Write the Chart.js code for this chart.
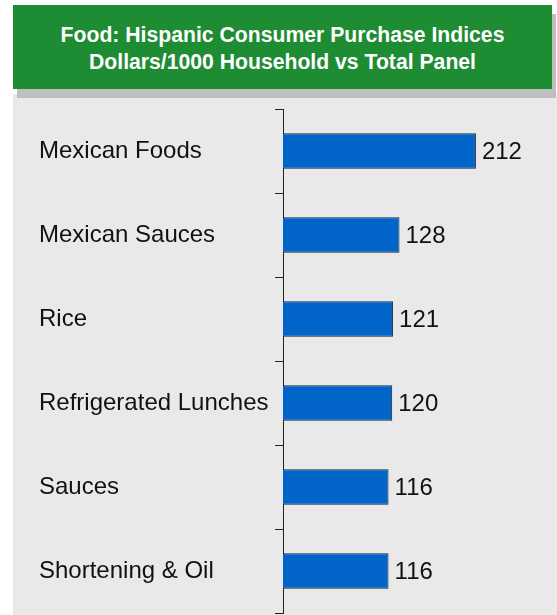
<!DOCTYPE html>
<html>
<head>
<meta charset="utf-8">
<script src="https://cdn.jsdelivr.net/npm/chart.js@4.4.0/dist/chart.umd.min.js"></script>
<style>
  body { margin: 0; background: #fff; width: 557px; height: 615px; position: relative; overflow: hidden; }
  #panel { position: absolute; left: 13px; top: 94px; width: 544px; height: 521px; background: #e9e9e9; }
  #title {
    position: absolute; left: 13px; top: 5px; width: 539px; height: 84px;
    background: #1e8c32; box-shadow: 4px 9px 0 #bfbfbf;
    color: #fff; font: bold 21.2px "Liberation Sans", Arial, sans-serif;
    text-align: center; line-height: 27px; box-sizing: border-box; padding-top: 16px;
  }
  #wrap { position: absolute; left: 13px; top: 98px; width: 544px; height: 530px; }
</style>
</head>
<body>
<div id="panel"></div>
<div id="title">Food: Hispanic Consumer Purchase Indices<br>Dollars/1000 Household vs Total Panel</div>
<div id="wrap"><canvas id="indexChart"></canvas></div>
<script>
const categories = ['Mexican Foods', 'Mexican Sauces', 'Rice', 'Refrigerated Lunches', 'Sauces', 'Shortening & Oil'];
const indexValues = [212, 128, 121, 120, 116, 116];
const axisMax = 300;

const labelFont = '24px "Liberation Sans", Arial, sans-serif';

// value printed just past the end of each bar
const valueLabels = {
  id: 'valueLabels',
  afterDatasetsDraw(chart) {
    const ctx = chart.ctx;
    const meta = chart.getDatasetMeta(0);
    ctx.save();
    ctx.font = labelFont;
    ctx.fillStyle = '#111';
    ctx.textAlign = 'left';
    ctx.textBaseline = 'middle';
    meta.data.forEach((bar, i) => {
      ctx.fillText(String(indexValues[i]), bar.x + 6, bar.y + 1);
    });
    ctx.restore();
  }
};

const ctx = document.getElementById('indexChart').getContext('2d');

new Chart(ctx, {
  type: 'bar',
  data: {
    labels: categories,
    datasets: [{
      data: indexValues,
      backgroundColor: '#0064c8',
      borderColor: '#1a2238',
      borderWidth: 1,
      barPercentage: 0.42,
      categoryPercentage: 1
    }]
  },
  options: {
    indexAxis: 'y',
    responsive: true,
    maintainAspectRatio: false,
    animation: false,
    layout: { padding: { left: 26, top: 11, bottom: 15, right: 1 } },
    scales: {
      x: {
        display: false,
        min: 0,
        max: axisMax
      },
      y: {
        afterFit(scale) { scale.width = 244; },
        border: { display: true, color: '#222', width: 1 },
        grid: {
          offset: true,
          drawOnChartArea: false,
          drawTicks: true,
          tickLength: 8,
          color: '#222'
        },
        ticks: {
          crossAlign: 'far',
          padding: 0,
          color: '#111',
          font: { family: '"Liberation Sans", Arial, sans-serif', size: 24, lineHeight: 0.8 }
        }
      }
    },
    plugins: {
      legend: { display: false },
      tooltip: { enabled: false }
    }
  },
  plugins: [valueLabels]
});
</script>
</body>
</html>
